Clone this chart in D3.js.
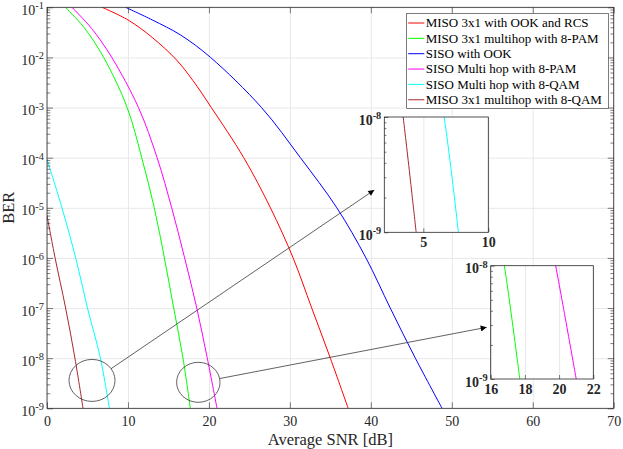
<!DOCTYPE html>
<html>
<head>
<meta charset="utf-8">
<script src="https://cdn.jsdelivr.net/npm/d3@7"></script>
<style>
html, body { margin: 0; padding: 0; background: #fff; }
svg { display: block; font-family: "Liberation Serif", "Times New Roman", serif; }
</style>
</head>
<body>
<svg id="chart" width="623" height="449"></svg>
<script>
// values: SNR [dB] and BER
const snrMisoOokRcs = [6.8, 10, 13, 16, 18, 20.3, 24.3, 27.6, 30.4, 32.7, 35.0, 37.2];
const berMisoOokRcs = [1e-1, 5.6e-2, 2.5e-2, 8.9e-3, 3.5e-3, 1e-3, 1e-4, 1e-5, 1e-6, 1e-7, 1e-8, 1e-9];

const snrMisoPam = [2.26, 4.5, 7.0, 9.9, 11.7, 13.25, 14.5, 15.65, 16.8, 17.7];
const berMisoPam = [1e-1, 4.1e-2, 1e-2, 1e-3, 1e-4, 1e-5, 1e-6, 1e-7, 1e-8, 1e-9];

const snrSisoOok = [9.7, 13, 16.5, 20.2, 26.5, 31.3, 35.8, 39.4, 42.4, 45.5, 48.8];
const berSisoOok = [1e-1, 5.6e-2, 2.8e-2, 1e-2, 1e-3, 1e-4, 1e-5, 1e-6, 1e-7, 1e-8, 1e-9];

const snrSisoPam = [3.08, 5.5, 8.0, 11.3, 13.6, 15.4, 17.0, 18.5, 19.8, 21.0];
const berSisoPam = [1e-1, 3.8e-2, 1e-2, 1e-3, 1e-4, 1e-5, 1e-6, 1e-7, 1e-8, 1e-9];

const snrSisoQam = [0, 1.85, 3.55, 5.0, 6.6, 7.7];
const berSisoQam = [9.3e-5, 1e-5, 1e-6, 1e-7, 1e-8, 1e-9];

const snrMisoQam = [0, 1.0, 2.3, 3.45, 4.45];
const berMisoQam = [7e-6, 1e-6, 1e-7, 1e-8, 1e-9];

const legendLabels = [
    "MISO 3x1 with OOK and RCS",
    "MISO 3x1 multihop with 8-PAM",
    "SISO with OOK",
    "SISO Multi hop with 8-PAM",
    "SISO Multi hop with 8-QAM",
    "MISO 3x1 multihop with 8-QAM"
];
const colors = ["#ff0000", "#00ff00", "#0000ff", "#ff00ff", "#00ffff", "#a52a2a"];

const xTicks = [0, 10, 20, 30, 40, 50, 60, 70];
const yTicks = [1e-9, 1e-8, 1e-7, 1e-6, 1e-5, 1e-4, 1e-3, 1e-2, 1e-1];
const inset1XTicks = [5, 10];
const inset2XTicks = [16, 18, 20, 22];
const insetYTicks = [1e-9, 1e-8];

const series = [
    { snr: snrMisoOokRcs, ber: berMisoOokRcs },
    { snr: snrMisoPam, ber: berMisoPam },
    { snr: snrSisoOok, ber: berSisoOok },
    { snr: snrSisoPam, ber: berSisoPam },
    { snr: snrSisoQam, ber: berSisoQam },
    { snr: snrMisoQam, ber: berMisoQam }
].map((s, i) => ({ name: legendLabels[i], color: colors[i], points: s.snr.map((v, j) => [v, s.ber[j]]) }));

const axisColor = "#262626";
const gridColor = "#e8e8e8";

const svg = d3.select("#chart");

//MARKER
svg.append("defs").append("marker")
    .attr("id", "arrow")
    .attr("viewBox", "0 0 10 10")
    .attr("refX", 10).attr("refY", 5)
    .attr("markerWidth", 8).attr("markerHeight", 6)
    .attr("markerUnits", "userSpaceOnUse")
    .attr("orient", "auto")
    .append("path")
    .attr("d", "M0,0L10,5L0,10z")
    .attr("fill", "#000");

function powerLabel(sel, bold) {
    sel.each(function (d) {
        const t = d3.select(this);
        t.text(null);
        t.attr("dy", "0.5em");
        t.append("tspan").text("10");
        t.append("tspan")
            .attr("dy", -5.5)
            .attr("font-size", "0.74em")
            .text(Math.round(Math.log10(d)));
    });
    sel.attr("font-weight", bold ? "bold" : null);
}

// draws one axes box: grid, ticks, labels, lines
function drawAxes(id, box, xDomain, opts) {
    const x = d3.scaleLinear().domain(xDomain).range([box.left, box.right]);
    const y = d3.scaleLog().domain(opts.main ? [1e-9, 1e-1] : [1e-9, 1e-8]).range([box.bottom, box.top]);
    const h = box.bottom - box.top;
    const w = box.right - box.left;
    const g = svg.append("g").attr("id", id);

    g.append("rect")
        .attr("x", box.left).attr("y", box.top)
        .attr("width", w).attr("height", h)
        .attr("fill", "#fff");

    // grid
    const gx = g.append("g")
        .attr("transform", `translate(0,${box.bottom})`)
        .call(d3.axisBottom(x).tickValues(opts.xTicks).tickSize(-h).tickFormat(""));
    gx.select(".domain").remove();
    gx.selectAll("line").attr("stroke", gridColor);

    if (opts.main) {
        const gy = g.append("g")
            .attr("transform", `translate(${box.left},0)`)
            .call(d3.axisLeft(y).tickValues(opts.yTicks).tickSize(-w).tickFormat(""));
        gy.select(".domain").remove();
        gy.selectAll("line").attr("stroke", gridColor);
    }

    // curves
    const clipId = id + "-clip";
    g.append("clipPath").attr("id", clipId)
        .append("rect")
        .attr("x", box.left).attr("y", box.top)
        .attr("width", w).attr("height", h);

    const line = d3.line()
        .x(d => x(d[0]))
        .y(d => y(d[1]))
        .curve(d3.curveCatmullRom.alpha(0.5));

    g.append("g").attr("clip-path", `url(#${clipId})`)
        .selectAll("path")
        .data(series)
        .enter()
        .append("path")
        .attr("d", d => line(d.points))
        .attr("fill", "none")
        .attr("stroke", d => d.color)
        .attr("stroke-width", 1);

    // ticks
    const minor = y.ticks().filter(d => Math.abs(Math.log10(d) - Math.round(Math.log10(d))) > 1e-6);
    const tickLen = opts.main ? 6 : 4;
    const font = 14;

    const bottom = g.append("g")
        .attr("transform", `translate(0,${box.bottom})`)
        .call(d3.axisBottom(x).tickValues(opts.xTicks).tickSize(-tickLen).tickPadding(opts.main ? 8 : 5).tickFormat(d3.format("d")));
    bottom.select(".domain").remove();
    bottom.selectAll("text")
        .attr("font-size", font)
        .attr("font-weight", opts.main ? null : "bold")
        .attr("fill", axisColor);

    const left = g.append("g")
        .attr("transform", `translate(${box.left},0)`)
        .call(d3.axisLeft(y).tickValues(opts.yTicks).tickSize(-tickLen).tickPadding(3));
    left.select(".domain").remove();
    left.selectAll("text")
        .attr("font-size", font)
        .attr("fill", axisColor)
        .call(powerLabel, !opts.main);

    const leftMinor = g.append("g")
        .attr("transform", `translate(${box.left},0)`)
        .call(d3.axisLeft(y).tickValues(minor).tickSize(-tickLen * 0.55).tickFormat(""));
    leftMinor.select(".domain").remove();

    if (opts.main) {
        const top = g.append("g")
            .attr("transform", `translate(0,${box.top})`)
            .call(d3.axisTop(x).tickValues(opts.xTicks).tickSize(-tickLen).tickFormat(""));
        top.select(".domain").remove();

        const right = g.append("g")
            .attr("transform", `translate(${box.right},0)`)
            .call(d3.axisRight(y).tickValues(opts.yTicks).tickSize(-tickLen).tickFormat(""));
        right.select(".domain").remove();

        const rightMinor = g.append("g")
            .attr("transform", `translate(${box.right},0)`)
            .call(d3.axisRight(y).tickValues(minor).tickSize(-tickLen * 0.55).tickFormat(""));
        rightMinor.select(".domain").remove();
    }

    g.selectAll(".tick line").filter(function () { return this.getAttribute("stroke") !== gridColor; })
        .attr("stroke", axisColor)
        .attr("stroke-width", 0.6);
    g.selectAll("g").attr("font-family", null);

    g.append("rect")
        .attr("x", box.left).attr("y", box.top)
        .attr("width", w).attr("height", h)
        .attr("fill", "none")
        .attr("stroke", axisColor)
        .attr("stroke-width", 0.8);

    return { x, y, g };
}

const mainBox = { left: 47, top: 7.3, right: 613.7, bottom: 408.3 };
const inset1Box = { left: 384.3, top: 117, right: 488.3, bottom: 232.3 };
const inset2Box = { left: 490.7, top: 265.7, right: 593.3, bottom: 379 };

const main = drawAxes("main", mainBox, [0, 70], { main: true, xTicks: xTicks, yTicks: yTicks });

// axis titles
svg.append("text")
    .attr("x", (mainBox.left + mainBox.right) / 2)
    .attr("y", 445)
    .attr("text-anchor", "middle")
    .attr("font-size", 16.5)
    .attr("fill", axisColor)
    .text("Average SNR [dB]");

svg.append("text")
    .attr("transform", `translate(13.5,${(mainBox.top + mainBox.bottom) / 2}) rotate(-90)`)
    .attr("text-anchor", "middle")
    .attr("font-size", 16.5)
    .attr("fill", axisColor)
    .text("BER");

// zoom circles and arrows
const spots = [
    { snr: 5.56, ber: 3.6e-9, rx: 23, ry: 21, target: [374.3, 190] },
    { snr: 18.69, ber: 3.3e-9, rx: 21.7, ry: 20, target: [486.7, 327.3] }
];
spots.forEach(s => {
    const cx = main.x(s.snr), cy = main.y(s.ber);
    const a = Math.atan2(s.target[1] - cy, s.target[0] - cx);
    svg.append("ellipse")
        .attr("cx", cx).attr("cy", cy)
        .attr("rx", s.rx).attr("ry", s.ry)
        .attr("fill", "none")
        .attr("stroke", "#3a3a3a")
        .attr("stroke-width", 0.8);
    svg.append("line")
        .attr("x1", cx + s.rx * Math.cos(a))
        .attr("y1", cy + s.ry * Math.sin(a))
        .attr("x2", s.target[0])
        .attr("y2", s.target[1])
        .attr("stroke", "#3a3a3a")
        .attr("stroke-width", 0.8)
        .attr("marker-end", "url(#arrow)");
});

// legend
const legendBox = { x: 406.7, y: 13.3, w: 201.6, h: 95 };
const legend = svg.append("g").attr("id", "legend");
legend.append("rect")
    .attr("x", legendBox.x).attr("y", legendBox.y)
    .attr("width", legendBox.w).attr("height", legendBox.h)
    .attr("fill", "#fff")
    .attr("stroke", axisColor)
    .attr("stroke-width", 0.6);

const entries = legend.selectAll(".entry").data(series).enter().append("g")
    .attr("class", "entry")
    .attr("transform", (d, i) => `translate(${legendBox.x},${23 + i * 15.35})`);
entries.append("line")
    .attr("x1", 1.5).attr("x2", 17.6)
    .attr("stroke", d => d.color)
    .attr("stroke-width", 1);
entries.append("text")
    .attr("x", 19)
    .attr("dy", "0.33em")
    .attr("font-size", 13)
    .attr("fill", "#000")
    .text(d => d.name);

// insets on top
drawAxes("inset1", inset1Box, [2, 10], { main: false, xTicks: inset1XTicks, yTicks: insetYTicks });
drawAxes("inset2", inset2Box, [16, 22], { main: false, xTicks: inset2XTicks, yTicks: insetYTicks });
</script>
</body>
</html>
